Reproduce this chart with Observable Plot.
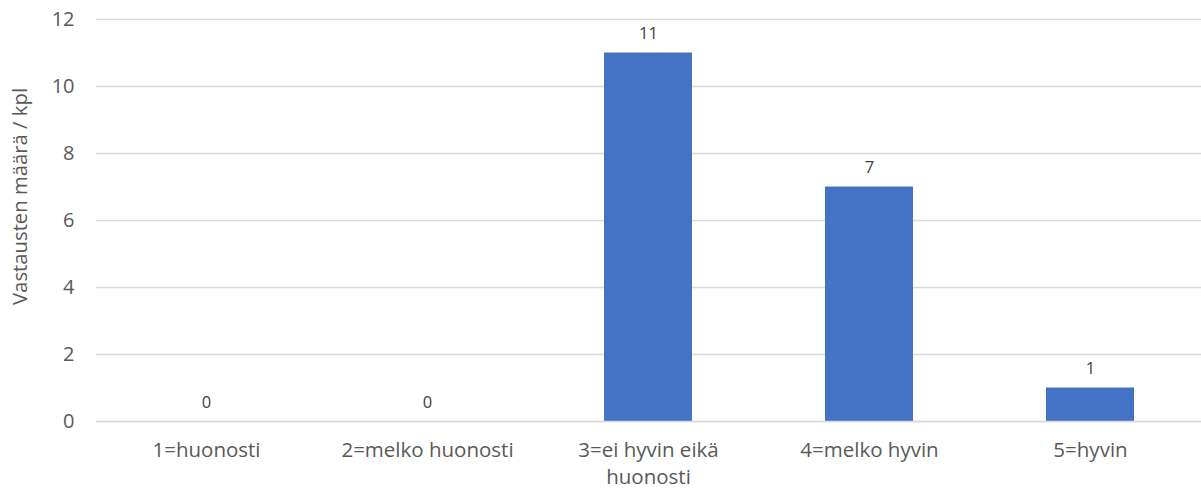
<!DOCTYPE html>
<html>
<head>
<meta charset="utf-8">
<script src="https://cdn.jsdelivr.net/npm/d3@7"></script>
<script src="https://cdn.jsdelivr.net/npm/@observablehq/plot@0.6"></script>
<style>
  html, body { margin: 0; padding: 0; background: #fff; }
  #chart svg { display: block; }
</style>
</head>
<body>
<div id="chart"></div>
<script>
const categories = ["1=huonosti", "2=melko huonosti", "3=ei hyvin eikä huonosti", "4=melko hyvin", "5=hyvin"];
const tickLabels = ["1=huonosti", "2=melko huonosti", "3=ei hyvin eikä\nhuonosti", "4=melko hyvin", "5=hyvin"];
const values = [0, 0, 11, 7, 1];
const yTicks = [0, 2, 4, 6, 8, 10, 12];
const yLabel = "Vastausten määrä / kpl";

const data = categories.map((c, i) => ({category: c, value: values[i]}));
const labelOf = new Map(categories.map((c, i) => [c, tickLabels[i]]));

const chart = Plot.plot({
  width: 1201,
  height: 491,
  marginLeft: 96,
  marginRight: 0,
  marginTop: 19,
  marginBottom: 70,
  style: {fontFamily: "'Open Sans', sans-serif", color: "#595959", background: "#fff"},
  x: {domain: categories, paddingInner: 0.6, paddingOuter: 0.3, label: null},
  y: {domain: [0, 12], ticks: yTicks, label: null},
  marks: [
    Plot.gridY(yTicks, {stroke: "#d9d9d9", strokeOpacity: 1, strokeWidth: 1.5}),
    Plot.barY(data, {x: "category", y: "value", fill: "#4472C4"}),
    Plot.ruleY([0], {stroke: "#d9d9d9", strokeWidth: 1.5}),
    Plot.text(data, {x: "category", y: "value", text: d => String(d.value), dy: -19, lineAnchor: "middle", fontSize: 16.5, fill: "#404040"}),
    Plot.axisY({ticks: yTicks, tickSize: 0, tickPadding: 22, fontSize: 20, label: null}),
    Plot.axisX({tickSize: 0, tickPadding: 16, fontSize: 20.5, tickFormat: d => labelOf.get(d), lineHeight: 1.32, label: null}),
    Plot.text([yLabel], {frameAnchor: "left", textAnchor: "middle", dx: -76, dy: -24, rotate: -90, fontSize: 20.3, fill: "#595959", text: d => d})
  ]
});
document.getElementById("chart").appendChild(chart);
</script>
</body>
</html>
